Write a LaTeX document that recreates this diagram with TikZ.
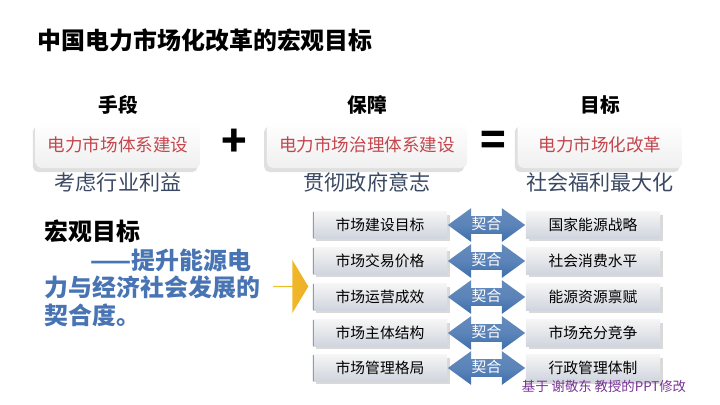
\documentclass[tikz,border=0pt]{standalone}
\usepackage{fontspec}
\setmainfont{Noto Sans CJK SC}
\usepackage{xcolor}
\usepackage{tikz}
\usetikzlibrary{positioning,calc,shapes.arrows,shadows}
\definecolor{goalred}{RGB}{196,70,76}
\definecolor{slatetext}{RGB}{58,72,98}
\definecolor{parablue}{RGB}{72,116,180}
\definecolor{arrowblue}{RGB}{62,110,172}
\definecolor{rowgray}{RGB}{208,213,222}
\definecolor{edgegray}{RGB}{150,156,166}
\definecolor{leadgold}{RGB}{236,182,48}
\definecolor{footpurple}{RGB}{120,50,150}
\tikzset{
  goalbox/.style={rectangle, rounded corners=4pt, minimum height=1.15cm, text centered, top color=white, bottom color=gray!12, text=goalred, font=\fontsize{12.5}{14}\selectfont, drop shadow={shadow xshift=-2pt, shadow yshift=-3pt, opacity=0.25}},
  header/.style={font=\fontsize{14}{16}\selectfont\bfseries},
  subline/.style={text=slatetext, font=\fontsize{15}{17}\selectfont},
  opsign/.style={font=\fontsize{30}{30}\selectfont\bfseries},
  rowbox/.style={rectangle, minimum width=3.35cm, minimum height=0.66cm, text centered, top color=gray!8, bottom color=rowgray, font=\fontsize{10.5}{12}\selectfont, drop shadow={shadow xshift=2pt, shadow yshift=-2pt, opacity=0.3}},
  leftedge/.style={path picture={\draw[edgegray, line width=2pt] (path picture bounding box.north west) -- (path picture bounding box.south west);}},
  fitarrow/.style={double arrow, minimum height=1.93cm, inner xsep=0pt, inner ysep=1.6pt, text height=0.8em, text depth=0.1em, double arrow head extend=0.2cm, double arrow tip angle=72, top color=arrowblue!80, bottom color=arrowblue, middle color=arrowblue!85, text=white, font=\fontsize{10.5}{12}\selectfont}
}

\begin{document}
\begin{tikzpicture}[x=0.025cm, y=-0.025cm]
  \useasboundingbox (0,0) rectangle (720,404);
  % Title
  \node (title) [anchor=west, font=\fontsize{17}{20}\selectfont\bfseries] at (33,40) {中国电力市场化改革的宏观目标};

  % Goal boxes
  \node (means) [goalbox, minimum width=4.12cm] at (118,145) {电力市场体系建设};
  \node (plus) [opsign] at (234,143) {+};
  \node (guard) [goalbox, minimum width=5cm] at (367,145) {电力市场治理体系建设};
  \node (equal) [opsign] at (493,143) {=};
  \node (aim) [goalbox, minimum width=4.12cm] at (600,145) {电力市场化改革};

  % Headers and sub lines
  \node [header, above=0.05cm of means] {手段};
  \node [header, above=0.05cm of guard] {保障};
  \node [header, above=0.05cm of aim] {目标};
  \node [subline, below=-0.02cm of means] {考虑行业利益};
  \node [subline, below=-0.02cm of guard] {贯彻政府意志};
  \node [subline, below=-0.02cm of aim] {社会福利最大化};

  % Macro goal
  \node (macro) [anchor=west, font=\fontsize{17}{20}\selectfont\bfseries] at (40,231) {宏观目标};
  \node (aimtext) [anchor=north west, align=left, text=parablue, font=\fontsize{17}{19.5}\selectfont\bfseries] at (40,244) {\hspace{1.9em}——提升能源电\\力与经济社会发展的\\契合度。};
  \node (lead) [single arrow, minimum width=1.33cm, minimum height=0.88cm, single arrow head extend=0.29cm, single arrow tip angle=118, inner sep=0pt, left color=leadgold!80!yellow, right color=leadgold!85!orange] at (290.5,286.5) {};

  % Rows
  \node (l1) [rowbox, leftedge] at (380,225) {市场建设目标};
  \node (l2) [rowbox, leftedge] at (380,261) {市场交易价格};
  \node (l3) [rowbox, leftedge] at (380,297) {市场运营成效};
  \node (l4) [rowbox, leftedge] at (380,333) {市场主体结构};
  \node (l5) [rowbox, leftedge] at (380,368) {市场管理格局};
  \node (r1) [rowbox] at (593,225) {国家能源战略};
  \node (r2) [rowbox] at (593,261) {社会消费水平};
  \node (r3) [rowbox] at (593,297) {能源资源禀赋};
  \node (r4) [rowbox] at (593,333) {市场充分竞争};
  \node (r5) [rowbox] at (593,368) {行政管理体制};

  % Arrows
  \node (f1) [fitarrow] at ($(l1.east)!0.5!(r1.west)$) {契合};
  \node (f2) [fitarrow] at ($(l2.east)!0.5!(r2.west)$) {契合};
  \node (f3) [fitarrow] at ($(l3.east)!0.5!(r3.west)$) {契合};
  \node (f4) [fitarrow] at ($(l4.east)!0.5!(r4.west)$) {契合};
  \node (f5) [fitarrow] at ($(l5.east)!0.5!(r5.west)$) {契合};

  % Note
  \node (note) [text=footpurple, font=\fontsize{9.5}{11}\selectfont] at (604,386) {基于 谢敬东 教授的PPT修改};
\end{tikzpicture}
\end{document}
